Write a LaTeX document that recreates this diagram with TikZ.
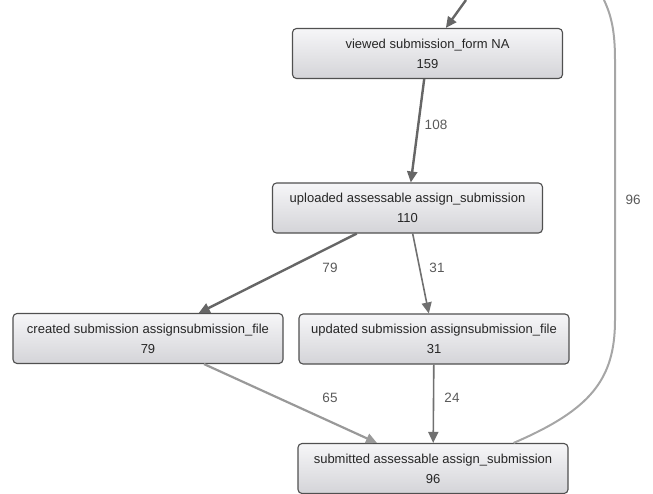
\documentclass[tikz,border=0pt]{standalone}
\usepackage{fontspec}
\setmainfont{Liberation Sans}
\usetikzlibrary{arrows.meta}
\definecolor{boxline}{HTML}{505050}
\definecolor{boxtop}{HTML}{F6F6F8}
\definecolor{boxbottom}{HTML}{D4D4D8}
\definecolor{darkedge}{HTML}{666666}
\definecolor{midedge}{HTML}{707070}
\definecolor{lightedge}{HTML}{A6A6A6}
\definecolor{labelgray}{HTML}{5A5A5A}

\begin{document}
\begin{tikzpicture}[x=1pt, y=-1pt,
  activity/.style={draw=boxline, line width=1.1pt, rounded corners=4pt,
    top color=boxtop, bottom color=boxbottom, minimum width=270pt,
    minimum height=50pt, inner sep=0pt, align=center, text=black!85,
    font=\fontsize{13}{20}\selectfont},
  flow/.style={-{Triangle[length=11pt,width=10pt]}, line width=#1},
  count/.style={text=labelgray, font=\fontsize{13.5}{15}\selectfont}]

  \useasboundingbox (0,0) rectangle (653,493);

  %coming in from above
  \coordinate (entry) at (466,0);
  \coordinate (loopend) at (604,0);

  %activities
  \node[activity] (viewed) at (427.5,53.5) {viewed submission\_form NA\\159};
  \node[activity] (uploaded) at (407.5,208) {uploaded assessable assign\_submission\\110};
  \node[activity] (created) at (148,338.5) {created submission assignsubmission\_file\\79};
  \node[activity] (updated) at (434,339) {updated submission assignsubmission\_file\\31};
  \node[activity] (submitted) at (433,468.5) {submitted assessable assign\_submission\\96};

  %counts
  \node[count] (n108) at (436,125) {108};
  \node[count] (n79) at (330,268) {79};
  \node[count] (n31) at (437,268) {31};
  \node[count] (n65) at (330,398) {65};
  \node[count] (n24) at (452,398) {24};
  \node[count] (n96) at (633,200) {96};

  %flows
  \draw[flow=2.4pt, draw=darkedge, fill=darkedge] (entry) -- (viewed);
  \draw[flow=2.4pt, draw=darkedge, fill=darkedge] (viewed) -- (uploaded);
  \draw[flow=2.4pt, draw=darkedge, fill=darkedge] (uploaded) -- (created);
  \draw[flow=1.6pt, draw=midedge, fill=midedge] (uploaded) -- (updated);
  \draw[flow=2.2pt, draw=lightedge!80!darkedge, fill=darkedge] (created) -- (submitted);
  \draw[flow=1.6pt, draw=midedge, fill=midedge] (updated) -- (submitted);

  %back to the start
  \draw[line width=2pt, draw=lightedge]
  ([xshift=-55pt]submitted.north east) .. controls (590,410) and (615,380) .. (615,320)
  -- (615,60) .. controls (615,30) and (611,15) .. (loopend);
\end{tikzpicture}
\end{document}
